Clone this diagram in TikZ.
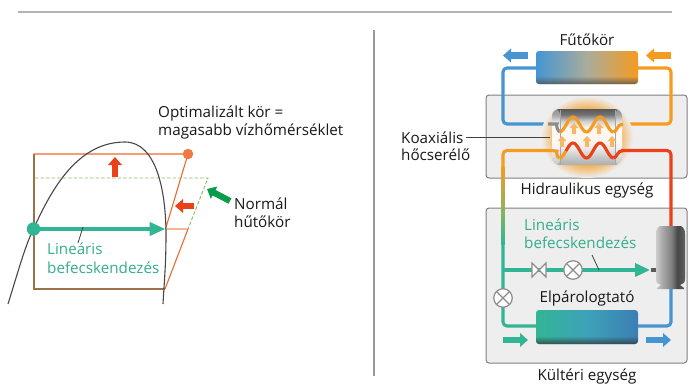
\documentclass[tikz,border=0pt]{standalone}
\usepackage{fontspec}
\setmainfont{Open Sans}
\usetikzlibrary{arrows.meta,fadings,calc}
\definecolor{teal1}{HTML}{32B594}
\definecolor{tealtxt}{HTML}{35AD8E}
\definecolor{blue1}{HTML}{4595D2}
\definecolor{orange1}{HTML}{F59B20}
\definecolor{red1}{HTML}{EA4118}
\definecolor{brown1}{HTML}{9C7148}
\definecolor{orline}{HTML}{EE6A30}
\definecolor{boxfill}{HTML}{EEEEEE}
\definecolor{dgreen}{HTML}{0A9C4A}
\definecolor{dashg}{HTML}{8DBB63}
\definecolor{softor}{HTML}{F7B765}
\pgfdeclareverticalshading{hxbody}{100bp}{
 color(0bp)=(black!32); color(25bp)=(black!32); color(32bp)=(black!22); color(40bp)=(black!8); color(48bp)=(orange!6); color(58bp)=(orange!6); color(64bp)=(black!18); color(70bp)=(black!55); color(75bp)=(black!65); color(100bp)=(black!65)}
\pgfdeclarehorizontalshading{compshade}{100bp}{
 color(0bp)=(black!20); color(25bp)=(black!20); color(37bp)=(black!35); color(52bp)=(black!50); color(62bp)=(black!72); color(75bp)=(black!62); color(100bp)=(black!62)}
\pgfdeclareradialshading{glowshade}{\pgfpointorigin}{
 color(0bp)=(orange1); color(16bp)=(orange1!85!boxfill); color(25bp)=(boxfill); color(50bp)=(boxfill)}
\tikzfading[name=topclear, top color=transparent!100, bottom color=transparent!25]
\tikzset{
 every node/.style={font=\fontsize{15.2}{18}\selectfont, inner sep=0pt, text=black!90},
 pipe/.style={line width=3.1pt, rounded corners=4pt},
 wave/.style={line width=3.1pt},
 unitbox/.style={draw=black!50, fill=boxfill, line width=1pt, rounded corners=3pt},
 hxer/.style={minimum width=102pt, minimum height=33pt, rounded corners=3pt},
 blockarrow/.style={line width=6.2pt, -{Triangle[length=8pt,width=13.5pt]}},
 xvalve/.style={circle, draw=black!45, fill=white, line width=1.2pt, minimum size=18.5pt,
   path picture={\draw[black!45,line width=1.1pt] (path picture bounding box.north west)--(path picture bounding box.south east)
   (path picture bounding box.north east)--(path picture bounding box.south west);}},
 leader/.style={draw=black!75, line width=0.8pt},
}
\newcommand{\smallup}[2]{\draw[softor, line width=3.2pt, -{Triangle[length=5pt,width=8.5pt]}] (#1,#2+6) -- (#1,#2-5);}
\begin{document}
\begin{tikzpicture}[x=1pt,y=-1pt]
\useasboundingbox (0,0) rectangle (690,391);
\fill[white] (0,0) rectangle (690,391);
\draw[black!30,line width=1.8pt] (18,12) -- (672,12);
\draw[black!40,line width=1.4pt] (374,30) -- (374,376);

% ---- left diagram
\coordinate (tl) at (33.5,154);
\coordinate (tr) at (188,154);
\coordinate (ml) at (33.5,229);
\coordinate (mr) at (165.5,229);
\coordinate (mo) at (188,229);
\coordinate (bl) at (33.5,289);
\coordinate (br) at (165,289);
\coordinate (dl) at (35,178);
\coordinate (dr) at (208,178);
\draw[orline,line width=1.1pt] (tl) -- (tr) -- (mr);
\draw[orline!50!white,line width=1.6pt] (mr) -- (mo);
\draw[orline,line width=1.1pt] (mo) -- (br);
\draw[brown1,line width=2pt] (33.5,153.5) -- (bl) -- (br);
\draw[dashg,line width=0.9pt,dash pattern=on 3.5pt off 2pt] (dl) -- (dr) -- (mo);
\draw[black!72,line width=1.1pt] (8,304) .. controls (18,272) and (25,246) .. (33.5,229)
  .. controls (52,188) and (78,142) .. (125,142)
  .. controls (156,142) and (166,190) .. (166,235)
  .. controls (166,265) and (164,285) .. (163,304);
\node[circle,fill=orline!90!white,minimum size=10.5pt] (odot) at (tr) {};
\draw[teal1,line width=4pt,-{Triangle[length=16pt,width=13pt]}] (ml) -- (mr);
\node[circle,fill=teal1,minimum size=13.5pt] (tdot) at (ml) {};
\coordinate (la) at (83,227); \coordinate (lb) at (78,243);
\draw[leader] (la) -- (lb);
\draw[red1,blockarrow] (115,177) -- (115,157);
\draw[red1,blockarrow] (194,206) -- (175,206);
\draw[dgreen,blockarrow] (230,201) -- (207,189);
\node[anchor=west,text=tealtxt] (lin1) at (47,249) {Lineáris};
\node[anchor=west,text=tealtxt] (lin2) at (47,268) {befecskendezés};
\node[anchor=west] (opt1) at (158,114) {Optimalizált kör =};
\node[anchor=west] (opt2) at (158,132) {magasabb vízhőmérséklet};
\node[anchor=west] (nor1) at (234,204) {Normál};
\node[anchor=west] (nor2) at (234,222) {hűtőkör};

% ---- right diagram: boxes
\node[unitbox,minimum width=201pt,minimum height=83pt] (hyd) at (586.5,136.5) {};
\node[unitbox,minimum width=201pt,minimum height=155pt] (out) at (586.5,285.5) {};
\node (futo) at (587,40) {Fűtőkör};
\node (hidr) at (587,190) {Hidraulikus egység};
\node (kult) at (587,376) {Kültéri egység};
\node (elp) at (587,298) {Elpárologtató};
\node[anchor=west] (kx1) at (401,138) {Koaxiális};
\node[anchor=west] (kx2) at (401,155) {hőcserélő};
\node[anchor=west,text=tealtxt] (lin3) at (524,225) {Lineáris};
\node[anchor=west,text=tealtxt] (lin4) at (524,243) {befecskendezés};

% heater and evaporator
\node[hxer,left color=blue1,right color=orange1,middle color=orange1!45!blue1!80!white] (heat) at (587,67.5) {};
\fill[black!70,path fading=topclear,rounded corners=3pt] (536,76) rectangle (638,84);
\node[hxer,left color=teal1,right color=blue1!85!black,middle color=teal1!40!blue1,minimum height=34pt] (evap) at (587,327) {};
\fill[black!80,path fading=topclear,rounded corners=3pt] (536,336) rectangle (638,344);

% pipes
\coordinate (hb) at (503,68); \coordinate (ho) at (671,68);
\coordinate (xb) at (503,124); \coordinate (xo) at (671,124);
\coordinate (yo) at (503,150.5); \coordinate (yr) at (671,150.5);
\coordinate (cr) at (671,228); \coordinate (eb) at (671,326);
\coordinate (jt) at (503,270); \coordinate (et) at (503,326);
\draw[pipe,blue1] (heat.west |- hb) -- (hb) -- (xb) -- (556,124);
\draw[pipe,orange1] (heat.east |- ho) -- (ho) -- (xo) -- (620,124);

% glow and exchanger
\shade[shading=glowshade] (587,137) ellipse (46 and 41);
\node[shade,shading=hxbody,minimum width=70pt,minimum height=56pt,rounded corners=7pt] (hx) at (587,137) {};
\fill[white,opacity=.35,rounded corners=6pt] (552,109) rectangle (560,165);
\fill[white,opacity=.35,rounded corners=6pt] (615,109) rectangle (622,165);
\draw[black!35,line width=.5pt] (560,110) -- (560,164) (615,110) -- (615,164);
\smallup{574}{128}\smallup{599}{128}\smallup{562}{141}\smallup{587}{141}\smallup{612}{141}
\draw[leader] (466,137) -- (550,137);
\draw[pipe,black!45] (548,124) -- (553,124) .. controls (556,124) and (557,131) .. (560,132);
\draw[wave,orange1] plot[smooth,samples=50,domain=559.5:613.5] (\x,{124.5-7.5*cos(360*(\x-573)/27)});
\draw[wave,orange1] (613.5,132) .. controls (617,132) and (617,124) .. (623,124);
\draw[pipe,orange1] (503,168) -- (yo) -- (553,150.5) .. controls (556,151) and (557,158) .. (559.5,158);
\draw[wave,orange1] plot[smooth,samples=30,domain=559.5:566] (\x,{150.5-7.5*cos(360*(\x-573)/27)});
\draw[wave,red1] plot[smooth,samples=50,domain=566:613.5] (\x,{150.5-7.5*cos(360*(\x-573)/27)});
\draw[wave,red1] (613.5,158) .. controls (617,158) and (617,150.5) .. (623,150.5);
\draw[pipe,red1] (621,150.5) -- (yr) -- (cr);

% lower pipes
\shade[top color=orange1,bottom color=teal1,middle color=orange1!45!teal1!90!yellow] (501.45,167) rectangle (504.55,244);
\draw[pipe,teal1] (503,243) -- (et) -- (evap.west |- et);
\draw[pipe,blue1] (evap.east |- eb) -- (eb) -- (671,283);
\draw[teal1,line width=3.4pt,-{Triangle[length=15pt,width=13pt]}] (jt) -- (650,270);

% compressor
\shade[shading=compshade] (660,226) -- (681,226) .. controls (684,228) and (685,230) .. (685,234)
  -- (685,279) .. controls (685,283) and (683,284) .. (680,285) -- (684,288) -- (684,289) -- (657,289) -- (657,288) -- (661,285)
  .. controls (658,284) and (656,283) .. (656,279) -- (656,234) .. controls (656,230) and (657,228) .. (660,226) -- cycle;
\node[fill=black!65,minimum size=4.5pt] (stub) at (653.5,270) {};

% valves
\node[xvalve] (v1) at (573,270) {};
\node[xvalve] (v2) at (503,298) {};
\filldraw[fill=white,draw=black!45,line width=1.1pt] (532,263) -- (546,277) -- (546,263) -- (532,277) -- cycle;
\coordinate (lc) at (592,255); \coordinate (ld) at (599,270);
\draw[leader] (lc) -- (ld);

% block arrows
\draw[blue1,blockarrow] (528,55.5) -- (503,55.5);
\draw[orange1,blockarrow] (671,55.5) -- (646,55.5);
\draw[teal1,blockarrow] (503,340) -- (528,340);
\draw[blue1,blockarrow] (646,340) -- (671,340);
\end{tikzpicture}
\end{document}
